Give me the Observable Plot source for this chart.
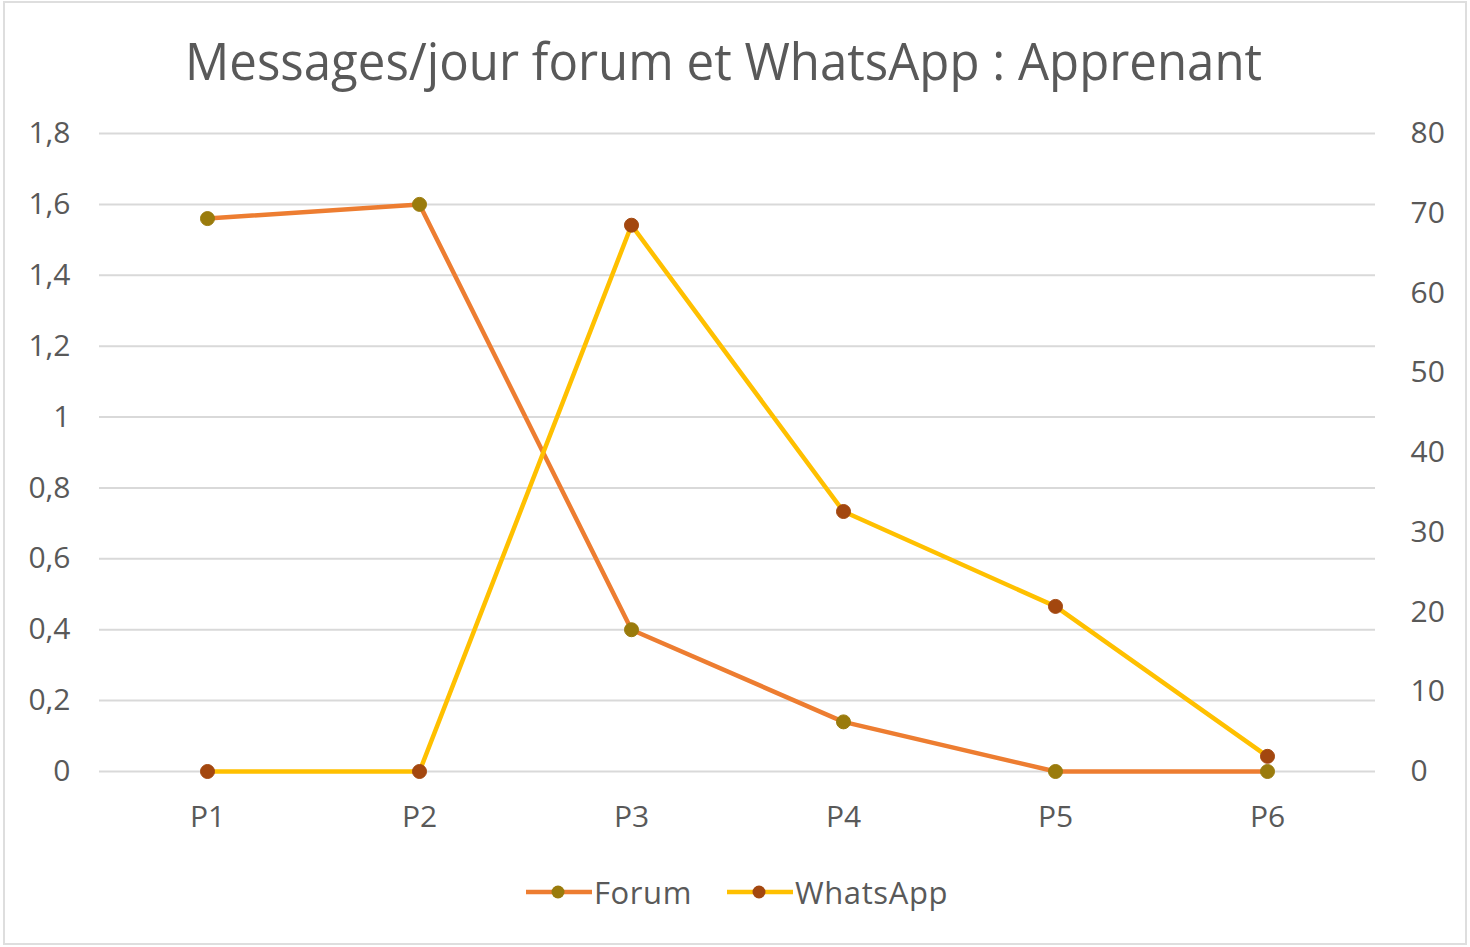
<!DOCTYPE html>
<html><head><meta charset="utf-8">
<script src="https://cdn.jsdelivr.net/npm/d3@7"></script>
<script src="https://cdn.jsdelivr.net/npm/@observablehq/plot@0.6"></script>
<style>
html,body{margin:0;padding:0;background:#fff;}
#frame{position:relative;width:1470px;height:947px;overflow:hidden;font-family:"Open Sans",sans-serif;color:#595959;background:#fff;}
#border{position:absolute;left:3px;top:1px;width:1464px;height:944px;border:2px solid #dedede;box-sizing:border-box;pointer-events:none;}
#title{position:absolute;left:-11px;top:22px;width:1470px;text-align:center;font-size:51px;line-height:76px;white-space:nowrap;}
#title span{display:inline-block;transform-origin:center center;}
#chart{position:absolute;left:0;top:0;}
#legend{position:absolute;left:0;top:870px;width:1470px;height:44px;}
.item{position:absolute;top:0;height:44px;display:flex;align-items:center;font-size:31px;letter-spacing:0.6px;white-space:nowrap;}
.item svg{display:block;}
</style></head>
<body>
<div id="frame">
  <div id="chart"></div>
  <div id="title"><span id="titletext">Messages/jour forum et WhatsApp : Apprenant</span></div>
  <div id="legend"></div>
  <div id="border"></div>
</div>
<script>
// ---- data ----
const categories = ["P1", "P2", "P3", "P4", "P5", "P6"];
const forum = [1.56, 1.6, 0.4, 0.14, 0, 0];          // left axis
const whatsapp = [0, 0, 68.5, 32.6, 20.7, 1.9];      // right axis
const leftTicks = [0, 0.2, 0.4, 0.6, 0.8, 1, 1.2, 1.4, 1.6, 1.8];
const leftTickLabels = ["0", "0,2", "0,4", "0,6", "0,8", "1", "1,2", "1,4", "1,6", "1,8"];
const rightTicks = [0, 10, 20, 30, 40, 50, 60, 70, 80];
const seriesNames = ["Forum", "WhatsApp"];
const leftMax = 1.8, rightMax = 80;

// ---- styles ----
const lineColors = {Forum: "#ED7D31", WhatsApp: "#FFC000"};
const markerColors = {Forum: "#9A7B0C", WhatsApp: "#A3470F"};
const textColor = "#595959";

const toLeft = v => v * leftMax / rightMax;
const forumData = categories.map((c, i) => ({cat: c, v: forum[i]}));
const waData = categories.map((c, i) => ({cat: c, v: whatsapp[i]}));

const chart = Plot.plot({
  width: 1470,
  height: 947,
  marginTop: 133,
  marginBottom: 176,
  marginLeft: 99,
  marginRight: 95,
  style: {fontFamily: '"Open Sans", sans-serif', fontSize: "30px", color: textColor, background: "transparent"},
  x: {type: "point", domain: categories, padding: 0.5},
  y: {domain: [0, leftMax]},
  marks: [
    Plot.ruleY(leftTicks, {stroke: "#d9d9d9", strokeWidth: 2}),
    Plot.axisY(leftTicks, {anchor: "left", tickSize: 0, tickPadding: 29, tickFormat: (d) => leftTickLabels[leftTicks.indexOf(d)], fill: textColor, fontSize: 30, label: null}),
    Plot.axisY(rightTicks.map(toLeft), {anchor: "right", tickSize: 0, tickPadding: 35, tickFormat: d => String(Math.round(d * rightMax / leftMax)), fill: textColor, fontSize: 30, textAnchor: "start", label: null}),
    Plot.axisX({anchor: "bottom", tickSize: 0, tickPadding: 34, fill: textColor, fontSize: 30, label: null}),
    Plot.line(forumData, {x: "cat", y: "v", stroke: lineColors.Forum, strokeWidth: 4.5}),
    Plot.dot(forumData, {x: "cat", y: "v", r: 7, fill: markerColors.Forum, stroke: markerColors.Forum, strokeWidth: 1}),
    Plot.line(waData, {x: "cat", y: d => toLeft(d.v), stroke: lineColors.WhatsApp, strokeWidth: 4.5}),
    Plot.dot(waData, {x: "cat", y: d => toLeft(d.v), r: 7, fill: markerColors.WhatsApp, stroke: markerColors.WhatsApp, strokeWidth: 1})
  ]
});
document.getElementById("chart").appendChild(chart);

// ---- legend ----
const legend = document.getElementById("legend");
const legendLeft = {Forum: 526, WhatsApp: 727};
seriesNames.forEach(name => {
  const item = document.createElement("div");
  item.className = "item";
  item.style.left = legendLeft[name] + "px";
  const svg = d3.create("svg").attr("width", 68).attr("height", 44);
  svg.append("line").attr("x1", 0).attr("x2", 66).attr("y1", 22).attr("y2", 22)
    .attr("stroke", lineColors[name]).attr("stroke-width", 4.5);
  svg.append("circle").attr("cx", 32).attr("cy", 22).attr("r", 6.5).attr("fill", markerColors[name]);
  item.appendChild(svg.node());
  const t = document.createElement("span");
  t.textContent = name;
  item.appendChild(t);
  legend.appendChild(item);
});

// fit title width
const tt = document.getElementById("titletext");
const w = tt.getBoundingClientRect().width;
tt.style.transform = `scaleX(${1077 / w})`;
</script>
</body></html>
